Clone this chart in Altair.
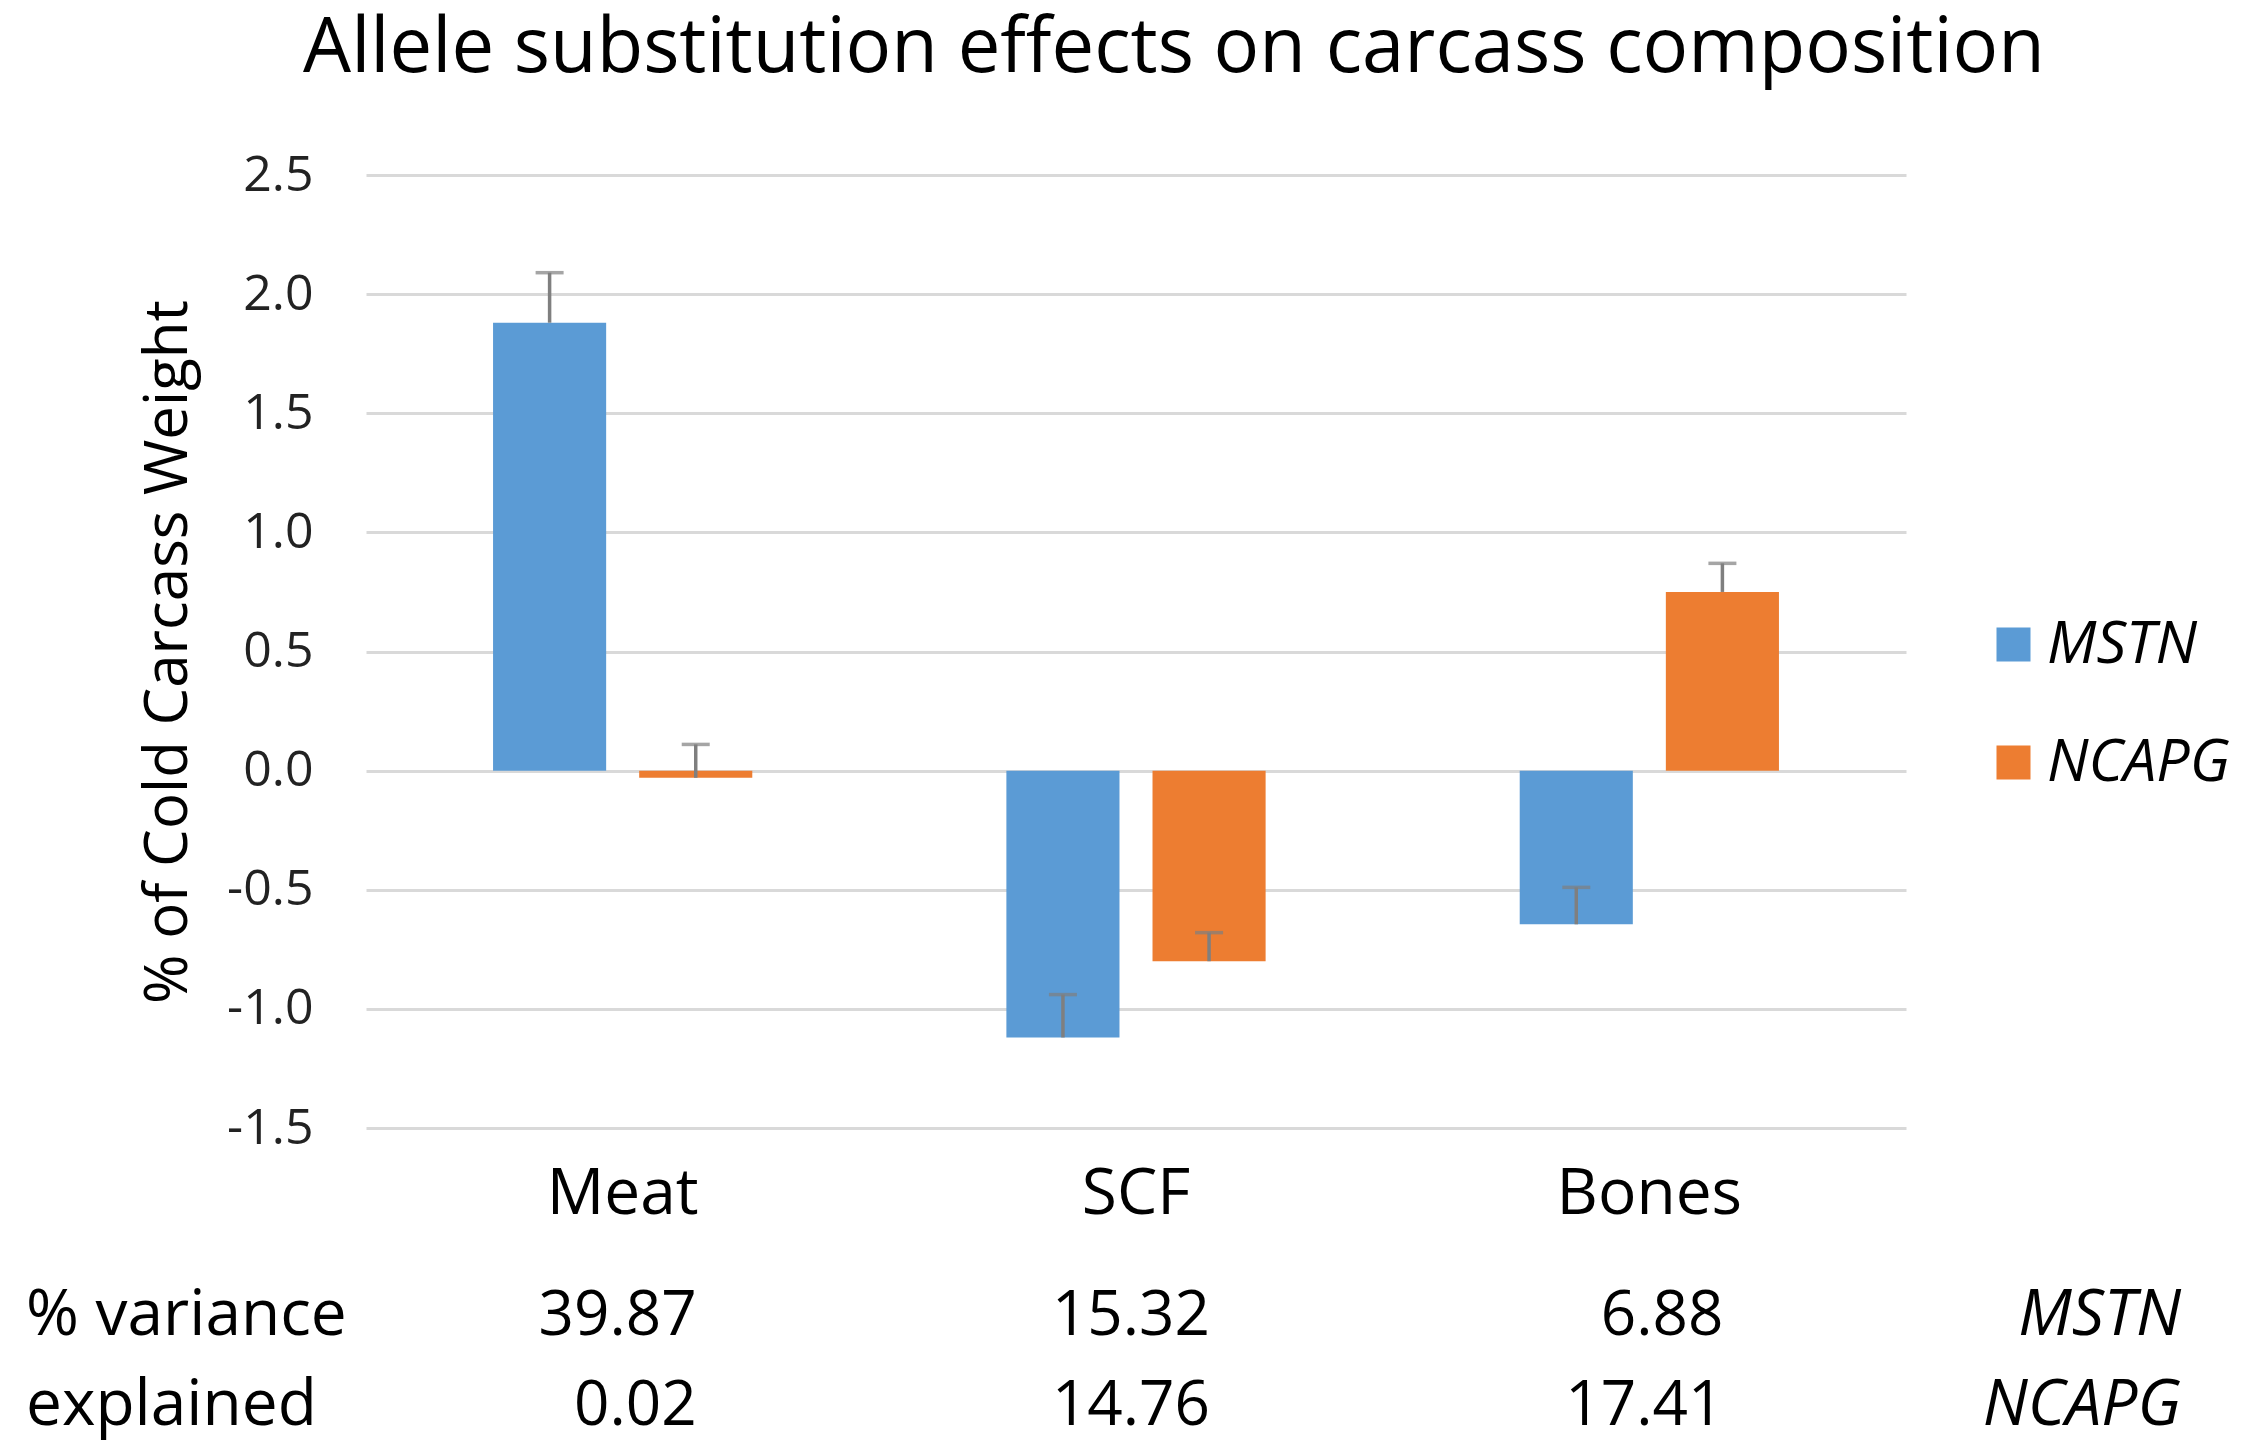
import altair as alt
import pandas as pd

# 데이터
categories = ["Meat", "SCF", "Bones"]
genes = ["MSTN", "NCAPG"]
mstn_effect = [1.88, -1.12, -0.645]
ncapg_effect = [-0.03, -0.80, 0.75]
mstn_err = [0.21, 0.18, 0.155]
ncapg_err = [0.14, 0.12, 0.12]
mstn_var = [39.87, 15.32, 6.88]
ncapg_var = [0.02, 14.76, 17.41]
row_labels = ["% variance", "explained"]
colors = ["#5B9BD5", "#ED7D31"]

rows = []
for i, c in enumerate(categories):
    rows.append({"cat": c, "gene": "MSTN", "effect": mstn_effect[i], "hi": mstn_effect[i] + mstn_err[i]})
    rows.append({"cat": c, "gene": "NCAPG", "effect": ncapg_effect[i], "hi": ncapg_effect[i] + ncapg_err[i]})
df = pd.DataFrame(rows)
var_df = pd.DataFrame({"cat": categories, "mstn": mstn_var, "ncapg": ncapg_var})

FONT = "Open Sans"
W, H = 1540, 953
ROW1, ROW2 = 1141, 1231

x = alt.X("cat:N", sort=categories,
          scale=alt.Scale(paddingInner=0.495, paddingOuter=0.2475),
          axis=alt.Axis(title=None, labelAngle=0, labelFontSize=64, labelFont=FONT,
                        labelColor="black", labelPadding=66, labelBaseline="middle",
                        labelLimit=600, ticks=False, domain=False, grid=False))
xoff = alt.XOffset("gene:N", sort=genes, scale=alt.Scale(paddingInner=0.226, paddingOuter=0))

y_axis = alt.Axis(title="% of Cold Carcass Weight", values=[-1.5, -1.0, -0.5, 0, 0.5, 1.0, 1.5, 2.0, 2.5],
                  labelExpr="(datum.value < 0 ? '-' : '') + format(abs(datum.value), '.1f')",
                  labelFontSize=50, labelFont=FONT, labelColor="#222", labelPadding=53,
                  ticks=False, domain=False, gridColor="#D9D9D9", gridWidth=3,
                  titleFontSize=60, titleFont=FONT, titleFontWeight="normal", titleColor="black",
                  titleX=-198, titleY=H / 2, titleAngle=-90, titleAlign="center", titleBaseline="middle")
y_scale = alt.Scale(domain=[-1.5, 2.5], nice=False, zero=False)

bars = alt.Chart(df).mark_bar().encode(
    x=x, xOffset=xoff,
    y=alt.Y("effect:Q", scale=y_scale, axis=y_axis),
    color=alt.Color("gene:N", scale=alt.Scale(domain=genes, range=colors),
                    legend=alt.Legend(title=None, orient="none", legendX=1618, legendY=440,
                                      symbolType="square", symbolSize=1156, symbolStrokeWidth=0,
                                      labelFontSize=59, labelFont=FONT, labelFontStyle="italic",
                                      labelColor="black", labelLimit=500, rowPadding=58,
                                      labelOffset=4)),
)

err = alt.Chart(df).mark_rule(color="#7F7F7F", strokeWidth=3.5).encode(
    x=x, xOffset=xoff, y="effect:Q", y2="hi:Q"
)
caps = alt.Chart(df).mark_tick(color="#7F7F7F", thickness=3.5, size=28).encode(
    x=x, xOffset=xoff, y="hi:Q"
)

txt = dict(align="right", baseline="middle", dx=74, fontSize=62, font=FONT, color="black")
var1 = alt.Chart(var_df).mark_text(**txt).encode(x=x, y=alt.value(ROW1), text=alt.Text("mstn:Q", format=".2f"))
var2 = alt.Chart(var_df).mark_text(**txt).encode(x=x, y=alt.value(ROW2), text=alt.Text("ncapg:Q", format=".2f"))

def label(text, xpos, ypos, align, style="normal"):
    return alt.Chart(pd.DataFrame({"t": [text]})).mark_text(
        align=align, baseline="middle", fontSize=64, font=FONT, fontStyle=style, color="black"
    ).encode(x=alt.value(xpos), y=alt.value(ypos), text="t:N")

lab1 = label(row_labels[0], -340, ROW1, "left")
lab2 = label(row_labels[1], -340, ROW2, "left")
g1 = label(genes[0], 1815, ROW1, "right", "italic")
g2 = label(genes[1], 1815, ROW2, "right", "italic")

chart = alt.layer(bars, err, caps, var1, var2, lab1, lab2, g1, g2).properties(
    width=W, height=H,
    background="white",
    title=alt.TitleParams("Allele substitution effects on carcass composition", fontSize=76,
                          font=FONT, fontWeight="normal", anchor="middle", dx=38, offset=-14,
                          baseline="bottom", color="black"),
    autosize=alt.AutoSizeParams(type="none"),
    padding={"left": 358, "top": 167, "right": 336, "bottom": 316},
).configure_view(stroke=None)

chart.save("out.html", embed_options={"renderer": "svg", "actions": False})
